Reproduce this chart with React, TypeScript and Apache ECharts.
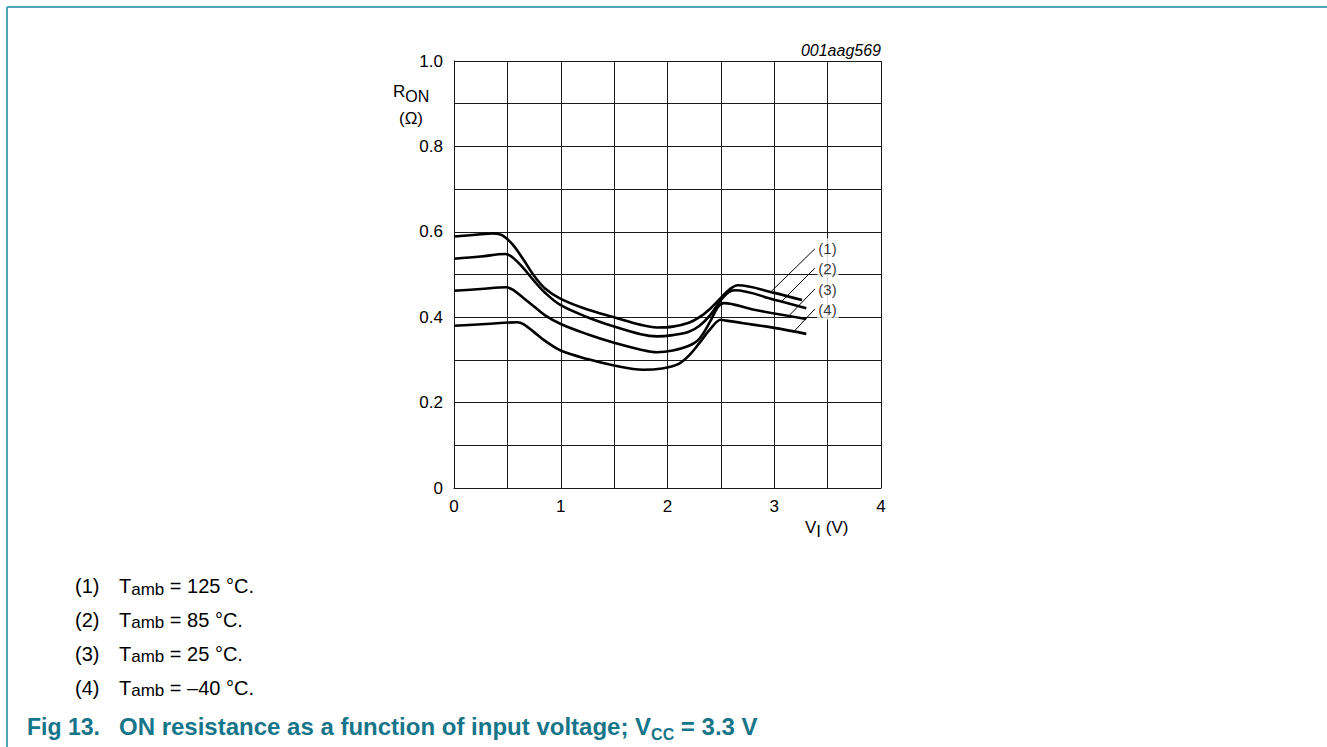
import React, { useEffect, useRef } from "react";
import * as echarts from "echarts";

// ---- data ----
const curveNames = ["(1)", "(2)", "(3)", "(4)"];
const legendTemps = ["125 °C.", "85 °C.", "25 °C.", "–40 °C."];

const v125 = [0, 0.2, 0.37, 0.45, 0.55, 0.65, 0.75, 0.85, 1.0, 1.25, 1.5, 1.75, 1.9, 2.05, 2.2, 2.3, 2.4, 2.5, 2.58, 2.66, 3.0, 3.26];
const r125 = [0.589, 0.593, 0.596, 0.592, 0.57, 0.535, 0.497, 0.468, 0.443, 0.418, 0.4, 0.382, 0.376, 0.378, 0.387, 0.4, 0.42, 0.445, 0.465, 0.475, 0.457, 0.44];

const v85 = [0, 0.25, 0.48, 0.55, 0.65, 0.75, 0.85, 1.0, 1.25, 1.5, 1.75, 1.9, 2.05, 2.2, 2.3, 2.4, 2.5, 2.57, 2.63, 3.0, 3.3];
const r85 = [0.537, 0.542, 0.548, 0.54, 0.515, 0.485, 0.458, 0.428, 0.4, 0.378, 0.36, 0.355, 0.358, 0.366, 0.38, 0.405, 0.44, 0.458, 0.463, 0.441, 0.421];

const v25 = [0, 0.25, 0.49, 0.56, 0.65, 0.75, 0.85, 1.0, 1.25, 1.5, 1.75, 1.9, 2.05, 2.2, 2.3, 2.4, 2.47, 2.53, 2.8, 3.3];
const r25 = [0.462, 0.466, 0.47, 0.463, 0.445, 0.425, 0.405, 0.384, 0.36, 0.34, 0.324, 0.318, 0.322, 0.333, 0.35, 0.39, 0.423, 0.433, 0.418, 0.396];

const vm40 = [0, 0.3, 0.59, 0.65, 0.75, 0.85, 1.0, 1.25, 1.5, 1.77, 1.95, 2.1, 2.2, 2.3, 2.4, 2.5, 2.55, 3.0, 3.3];
const rm40 = [0.38, 0.384, 0.388, 0.384, 0.365, 0.345, 0.322, 0.302, 0.287, 0.277, 0.28, 0.29, 0.31, 0.34, 0.372, 0.394, 0.392, 0.375, 0.361];

// leader lines: start on curve, end at label anchor
const leaderStartV = [2.97, 3.07, 3.14, 3.19];
const leaderStartR = [0.46, 0.437, 0.404, 0.368];
const leaderEndV = [3.38, 3.38, 3.38, 3.38];
const leaderEndR = [0.56, 0.515, 0.466, 0.419];

const xTicks = { min: 0, max: 4, interval: 0.5 };
const yTicks = { min: 0, max: 1, interval: 0.1 };

const FONT = "Liberation Sans, Arial, sans-serif";
const TEAL = "#17758a";

function zip(xs: number[], ys: number[]) {
  return xs.map((x, i) => [x, ys[i]]);
}

export default function App() {
  const ref = useRef<HTMLDivElement>(null);
  useEffect(() => {
    document.body.style.margin = "0";
    if (!ref.current) return;
    const chart = echarts.init(ref.current, null, { renderer: "svg" });
    const curves = [zip(v125, r125), zip(v85, r85), zip(v25, r25), zip(vm40, rm40)];
    const gridColor = "#1a1a1a";

    const lineSeries = curves.map((d, i) => ({
      type: "line",
      data: d,
      smooth: 0.35,
      symbol: "none",
      silent: true,
      lineStyle: { color: "#000", width: 2.6 },
      z: 3,
      markLine: {
        silent: true,
        symbol: "none",
        label: { show: false },
        lineStyle: { color: "#000", width: 1, type: "solid" },
        data: [
          [
            { coord: [leaderStartV[i], leaderStartR[i]] },
            { coord: [leaderEndV[i], leaderEndR[i]] },
          ],
        ],
      },
    }));

    const labelSeries = {
      type: "scatter",
      silent: true,
      symbol: "circle",
      symbolSize: 1,
      itemStyle: { color: "rgba(0,0,0,0)" },
      z: 5,
      data: leaderEndV.map((v, i) => ({
        value: [v, leaderEndR[i]],
        label: {
          show: true,
          position: "right",
          distance: 2,
          formatter: curveNames[i],
          fontFamily: FONT,
          fontSize: 15,
          color: "#000",
          backgroundColor: "#fff",
          padding: [3, 2, 3, 1],
        },
      })),
    };

    const legendGraphics: any[] = [];
    const rowBase = [597.5, 631, 665, 699];
    const lm = { fontFamily: FONT, fontSize: 20, fill: "#000", verticalAlign: "bottom", padding: [0, 0, 1.5, 0] };
    const ls = { fontFamily: FONT, fontSize: 17, fill: "#000", verticalAlign: "bottom" };
    rowBase.forEach((b, i) => {
      legendGraphics.push({
        type: "text",
        x: 75,
        y: b,
        style: { text: `{m|${curveNames[i]}}`, verticalAlign: "bottom", rich: { m: lm } },
      });
      legendGraphics.push({
        type: "text",
        x: 119,
        y: b,
        style: {
          text: `{m|T}{s|amb}{m| = ${legendTemps[i]}}`,
          verticalAlign: "bottom",
          rich: { m: lm, s: ls },
        },
      });
    });

    const axm = { fontFamily: FONT, fontSize: 17, fill: "#000", verticalAlign: "bottom", padding: [0, 0, 4, 0] };
    const axs = { fontFamily: FONT, fontSize: 16, fill: "#000", verticalAlign: "bottom" };
    const cm = { fontFamily: FONT, fontSize: 24, fontWeight: "bold", fill: TEAL, verticalAlign: "bottom", padding: [0, 0, 3.8, 0] };
    const cf = { fontFamily: FONT, fontSize: 23, fontWeight: "bold", fill: TEAL, verticalAlign: "bottom", padding: [0, 0, 3.8, 0] };
    const cs = { fontFamily: FONT, fontSize: 16, fontWeight: "bold", fill: TEAL, verticalAlign: "bottom" };

    chart.setOption({
      animation: false,
      backgroundColor: "#fff",
      grid: { left: 454, top: 61, width: 427, height: 427, containLabel: false },
      xAxis: {
        type: "value",
        min: xTicks.min,
        max: xTicks.max,
        interval: xTicks.interval,
        axisLine: { show: true, lineStyle: { color: gridColor, width: 1 } },
        axisTick: { show: false },
        splitLine: { show: true, lineStyle: { color: gridColor, width: 1 } },
        axisLabel: {
          margin: 10,
          fontFamily: FONT,
          fontSize: 17,
          color: "#000",
          formatter: (v: number) => (Math.abs(v - Math.round(v)) < 1e-6 ? String(Math.round(v)) : ""),
        },
      },
      yAxis: {
        type: "value",
        min: yTicks.min,
        max: yTicks.max,
        interval: yTicks.interval,
        axisLine: { show: true, lineStyle: { color: gridColor, width: 1 } },
        axisTick: { show: false },
        splitLine: { show: true, lineStyle: { color: gridColor, width: 1 } },
        axisLabel: {
          margin: 11,
          fontFamily: FONT,
          fontSize: 17,
          color: "#000",
          formatter: (v: number) => {
            const k = Math.round(v * 10);
            if (k % 2 !== 0) return "";
            if (k === 0) return "0";
            return (k / 10).toFixed(1);
          },
        },
      },
      series: [...lineSeries, labelSeries],
      graphic: [
        // frame
        { type: "line", shape: { x1: 7, y1: 7, x2: 1327, y2: 7 }, style: { stroke: "#4fa6b2", lineWidth: 2 }, silent: true },
        { type: "line", shape: { x1: 7, y1: 7, x2: 7, y2: 747 }, style: { stroke: "#4fa6b2", lineWidth: 2 }, silent: true },
        // figure id
        {
          type: "text",
          x: 881,
          y: 58,
          style: {
            text: "{i|001aag569}",
            align: "right",
            verticalAlign: "bottom",
            rich: { i: { fontFamily: FONT, fontSize: 16, fontStyle: "italic", fill: "#000" } },
          },
        },
        // y axis name
        {
          type: "text",
          x: 393,
          y: 104,
          style: { text: "{m|R}{s|ON}", verticalAlign: "bottom", rich: { m: axm, s: axs } },
        },
        {
          type: "text",
          x: 399,
          y: 110,
          style: { text: "(Ω)", font: `17px ${FONT}`, fill: "#000" },
        },
        // x axis name
        {
          type: "text",
          x: 805,
          y: 539.5,
          style: {
            text: "{m|V}{s|I}{m| (V)}",
            verticalAlign: "bottom",
            rich: { m: axm, s: { ...axs, fontSize: 17 } },
          },
        },
        ...legendGraphics,
        // caption
        {
          type: "text",
          x: 27,
          y: 742.4,
          style: { text: "{f|Fig 13.}", verticalAlign: "bottom", rich: { f: cf } },
        },
        {
          type: "text",
          x: 119,
          y: 742.4,
          style: {
            text: "{m|ON resistance as a function of input voltage; V}{s|CC}{m| = 3.3 V}",
            verticalAlign: "bottom",
            rich: { m: cm, s: cs },
          },
        },
      ],
    });
    return () => chart.dispose();
  }, []);
  return <div ref={ref} style={{ width: 1327, height: 747 }} />;
}
